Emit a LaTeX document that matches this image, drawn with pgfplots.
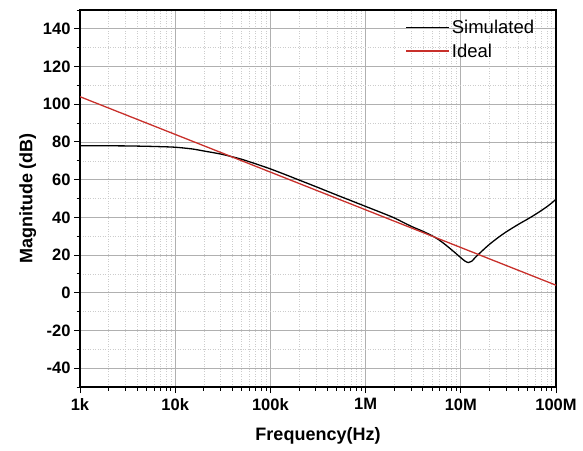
\documentclass[border=0pt]{standalone}
\usepackage{pgfplots}
\pgfplotsset{compat=1.18}
\usepackage{fontspec}
\setmainfont{Liberation Sans}
\definecolor{idealred}{HTML}{C8302B}
\definecolor{majgrid}{HTML}{B0B0B0}
\definecolor{mingrid}{HTML}{CCCCCC}

\begin{document}
\begin{tikzpicture}
\begin{axis}[
  scale only axis,
  width=476pt, height=377pt,
  xmode=log, log basis x=10,
  xmin=1e3, xmax=1e8,
  ymin=-50, ymax=150,
  xtick={1e3,1e4,1e5,1e6,1e7,1e8},
  xticklabels={1k,10k,100k,1M,10M,100M},
  minor xtick={2e3,3e3,4e3,5e3,6e3,7e3,8e3,9e3,
               2e4,3e4,4e4,5e4,6e4,7e4,8e4,9e4,
               2e5,3e5,4e5,5e5,6e5,7e5,8e5,9e5,
               2e6,3e6,4e6,5e6,6e6,7e6,8e6,9e6,
               2e7,3e7,4e7,5e7,6e7,7e7,8e7,9e7},
  ytick={-40,-20,0,20,40,60,80,100,120,140},
  minor ytick={-50,-30,-10,10,30,50,70,90,110,130,150},
  /pgf/number format/assume math mode=true,
  ticklabel style={font=\fontsize{16.5}{19}\selectfont\bfseries},
  xticklabel style={yshift=-2pt},
  xlabel={Frequency(Hz)},
  ylabel={Magnitude (dB)},
  label style={font=\fontsize{18}{21}\selectfont\bfseries},
  xlabel style={yshift=-10pt},
  tick align=outside,
  xtick pos=bottom, ytick pos=left,
  major tick length=6pt, minor tick length=3.5pt,
  tick style={black, line width=0.9pt},
  axis line style={black, line width=1.1pt},
  grid=both,
  major grid style={majgrid, line width=0.7pt},
  minor grid style={mingrid, dash pattern=on 1pt off 1.5pt, line width=0.55pt},
  legend style={draw=none, fill=none, at={(0.965,0.985)}, anchor=north east,
    font=\fontsize{18.5}{22}\selectfont, row sep=5pt,
    /tikz/every even column/.append style={column sep=0pt}},
  legend cell align=left,
  legend image code/.code={\draw[#1, line width=1.5pt] (0pt,0pt) -- (43pt,0pt);},
]
% simulated open-loop response
\addplot[black, line width=1.3pt, smooth] coordinates {
 (1e3,78.0) (2e3,77.95) (3e3,77.9) (5e3,77.7) (7e3,77.5) (1e4,77.2)
 (1.5e4,76.3) (2e4,75.2) (3e4,73.6) (4e4,72.1) (5e4,70.8) (7e4,68.4)
 (1e5,65.7) (1.5e5,62.3) (2e5,59.8) (3e5,56.3) (5e5,51.8) (7e5,48.9)
 (1e6,45.8) (1.5e6,42.3) (2e6,39.7) (3e6,35.3) (4e6,32.6) (5e6,30.2)
 (6e6,27.8) (7e6,25.2) (8e6,22.8) (9e6,20.6) (1e7,18.6) (1.1e7,16.9)
 (1.2e7,16.0) (1.3e7,16.7) (1.4e7,18.4) (1.5e7,19.9) (1.7e7,22.5)
 (2e7,25.7) (2.5e7,29.5) (3e7,32.3) (4e7,36.2) (5e7,39.0) (6e7,41.4)
 (7e7,43.6) (8e7,45.6) (9e7,47.6) (1e8,49.6)
};
\addlegendentry{Simulated}
% ideal -20 dB/decade
\addplot[idealred, line width=1.3pt] coordinates {(1e3,104) (1e8,4)};
\addlegendentry{Ideal}
\end{axis}
\path ([xshift=-80pt,yshift=-63pt]current axis.south west) rectangle ([xshift=27pt,yshift=10pt]current axis.north east);
\end{tikzpicture}
\end{document}
